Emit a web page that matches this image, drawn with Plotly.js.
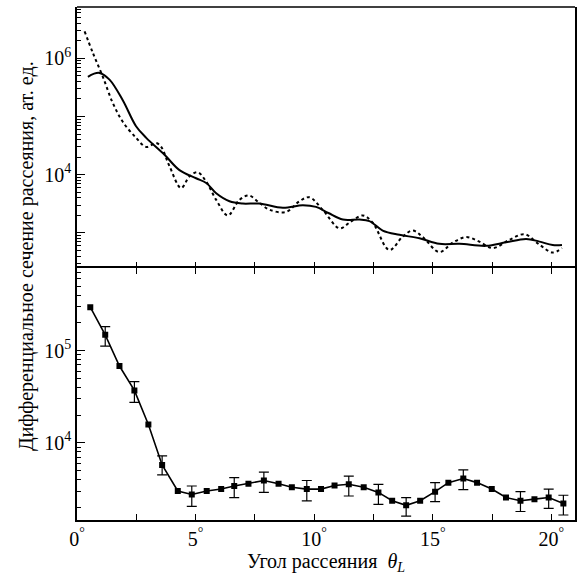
<!DOCTYPE html>
<html><head><meta charset="utf-8">
<script src="https://cdn.plot.ly/plotly-3.0.1.min.js"></script>
<style>
svg text, svg tspan { font-family: 'Liberation Serif', 'Times New Roman', serif !important; }
</style>
</head><body style="margin:0;background:#fff">
<div id="c" style="width:577px;height:584px"></div>
<script>
// Top panel: solid curve (1)
const thetaSolid = [0.46,0.7,0.95,1.37,1.93,2.49,2.92,3.69,4.32,5.02,5.45,5.87,6.43,6.99,7.69,8.68,9.52,10.08,10.6,11.21,11.91,12.33,12.89,13.6,14.44,15.28,16.13,17.25,18.09,18.94,19.5,20.06,20.45];
const valSolid = [4.8e5,5.4e5,5.6e5,4.3e5,1.9e5,6.8e4,4.3e4,2.2e4,1.2e4,8.7e3,7.2e3,4.8e3,3.5e3,3.2e3,3.2e3,2.7e3,3.0e3,2.8e3,2.2e3,1.7e3,1.7e3,1.6e3,1.1e3,930,810,650,650,600,690,790,710,620,620];
// Top panel: dotted curve
const thetaDot = [0.32,0.67,1.09,1.51,1.93,2.49,2.92,3.34,3.55,3.9,4.39,4.74,5.09,5.45,5.87,6.36,6.85,7.24,7.69,8.12,8.82,9.38,9.8,10.36,11.07,11.49,12.05,12.47,13.17,13.74,14.16,14.58,15.28,15.84,16.41,16.97,17.53,18.23,18.87,19.5,20.06,20.45];
const valDot = [2.9e6,1.23e6,4.8e5,1.7e5,8.1e4,4.3e4,3.0e4,3.5e4,3.0e4,1.4e4,5.9e3,9.3e3,1.1e4,7.6e3,3.7e3,2.0e3,3.7e3,4.4e3,3.3e3,2.5e3,2.3e3,3.5e3,4.1e3,2.5e3,1.2e3,1.5e3,2.0e3,1.5e3,510,870,1.1e3,850,470,680,850,710,550,760,950,630,460,550];
// Bottom panel: experimental points (2)
const thetaExp = [0.56,1.19,1.79,2.42,3.01,3.59,4.25,4.84,5.47,6.08,6.63,7.23,7.88,8.5,9.06,9.69,10.29,10.86,11.46,12.09,12.71,13.29,13.88,14.47,15.1,15.66,16.29,16.87,17.49,18.09,18.7,19.29,19.89,20.51];
const valExp = [2.95e5,1.48e5,6.8e4,3.7e4,1.58e4,5.75e3,3.0e3,2.75e3,3.0e3,3.15e3,3.4e3,3.6e3,3.9e3,3.6e3,3.3e3,3.15e3,3.15e3,3.45e3,3.55e3,3.3e3,2.9e3,2.35e3,2.1e3,2.35e3,2.95e3,3.7e3,4.1e3,3.7e3,3.15e3,2.55e3,2.35e3,2.45e3,2.55e3,2.2e3];
const errLow = [null,1.12e5,null,2.75e4,null,4.5e3,null,2.05e3,null,null,2.55e3,null,2.9e3,null,null,2.35e3,null,null,2.65e3,null,2.15e3,null,1.6e3,null,2.3e3,null,3.1e3,null,null,null,1.8e3,null,1.95e3,1.65e3];
const errHigh = [null,1.82e5,null,4.6e4,null,7.2e3,null,3.4e3,null,null,4.2e3,null,4.8e3,null,null,3.9e3,null,null,4.35e3,null,3.55e3,null,2.55e3,null,3.7e3,null,5.1e3,null,null,null,2.95e3,null,3.15e3,2.7e3];

const xTickVals = [0,2.5,5,7.5,10,12.5,15,17.5,20];
const xTickText = ['0<sup>°</sup>','','5<sup>°</sup>','','10<sup>°</sup>','','15<sup>°</sup>','','20<sup>°</sup>'];

function minorVals(d0,d1){const a=[];for(let d=d0;d<=d1;d++){for(let k=2;k<=9;k++)a.push(k*Math.pow(10,d));}return a;}

const errPlus = valExp.map((v,i)=>errHigh[i]==null?NaN:errHigh[i]-v);
const errMinus = valExp.map((v,i)=>errLow[i]==null?NaN:v-errLow[i]);

const FONT = 'Liberation Serif, Times New Roman, serif';

const traces = [
  {x:thetaDot,y:valDot,xaxis:'x',yaxis:'y',mode:'lines',line:{color:'#000',width:2,dash:'dot',shape:'spline'},hoverinfo:'skip'},
  {x:thetaSolid,y:valSolid,xaxis:'x',yaxis:'y',mode:'lines',line:{color:'#000',width:2,shape:'spline'},hoverinfo:'skip'},
  {x:thetaExp,y:valExp,xaxis:'x2',yaxis:'y2',mode:'lines+markers',line:{color:'#000',width:1.6},
   marker:{symbol:'square',size:6,color:'#000'},
   error_y:{type:'data',symmetric:false,array:errPlus,arrayminus:errMinus,color:'#000',thickness:1.2,width:5},hoverinfo:'skip'}
];

function ax(extra){
  return Object.assign({showgrid:false,zeroline:false,showline:true,linecolor:'#000',linewidth:1.5,ticks:'inside',tickcolor:'#000',
    tickfont:{family:FONT,size:20,color:'#000'}},extra);
}

const layout = {
  width:577,height:584,showlegend:false,
  paper_bgcolor:'#fff',plot_bgcolor:'#fff',
  margin:{l:77,r:2,t:7,b:64},
  font:{family:FONT,size:20,color:'#000'},
  xaxis:ax({domain:[0,1],anchor:'y',range:[0,21],tickmode:'array',tickvals:xTickVals,ticklen:6,showticklabels:false,showline:false}),
  yaxis:ax({domain:[0.4903,1],anchor:'x',type:'log',range:[2.39,6.88],tickmode:'array',
     tickvals:[1e2,1e3,1e4,1e5,1e6],ticktext:['','','10<sup>4</sup>','','10<sup>6</sup>'],ticklen:8,mirror:true,
     minor:{tickmode:'array',tickvals:minorVals(2,6),ticks:'inside',ticklen:4,tickcolor:'#000'}}),
  xaxis2:ax({domain:[0,1],anchor:'y2',range:[0,21],tickmode:'array',tickvals:xTickVals,
     ticktext:xTickText,ticklen:6,mirror:'ticks',
     title:{text:'Угол рассеяния  <i>θ</i><sub><i>L</i></sub>',font:{family:FONT,size:20,color:'#000'},standoff:4}}),
  yaxis2:ax({domain:[0,0.4903],anchor:'x2',type:'log',range:[3.163,5.89],tickmode:'array',
     tickvals:[1e3,1e4,1e5],ticktext:['','10<sup>4</sup>','10<sup>5</sup>'],ticklen:8,mirror:true,
     minor:{tickmode:'array',tickvals:minorVals(3,5),ticks:'inside',ticklen:4,tickcolor:'#000'}}),
  shapes:[
    {type:'line',xref:'paper',yref:'paper',x0:0,x1:1,y0:1,y1:1,line:{color:'#000',width:1.5}}
  ],
  annotations:[
    {xref:'paper',yref:'paper',x:-0.1,y:0.515,xanchor:'center',yanchor:'middle',textangle:-90,showarrow:false,
     text:'Дифференциальное сечение рассеяния, ат. ед.',font:{family:FONT,size:20,color:'#000'}},
    {xref:'x',yref:'y',x:19.35,y:Math.pow(10,3.30),showarrow:false,text:'<i>1</i>',font:{family:FONT,size:24,color:'#000'}},
    {xref:'x2',yref:'y2',x:19.4,y:Math.pow(10,3.70),showarrow:false,text:'2',font:{family:FONT,size:22,color:'#000'}}
  ]
};

Plotly.newPlot('c',traces,layout,{displayModeBar:false});
</script></body></html>
